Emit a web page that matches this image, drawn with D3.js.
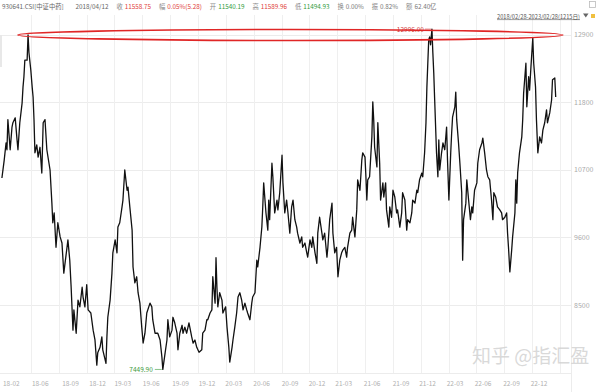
<!DOCTYPE html>
<html>
<head>
<meta charset="utf-8">
<script src="https://cdn.jsdelivr.net/npm/d3@7"></script>
<style>
  body { margin: 0; background: #fff; }
  svg { display: block; font-family: "Noto Sans CJK SC", "Noto Sans", sans-serif; }
</style>
</head>
<body>
<div id="chart"></div>
<script>
// ---------------------------------------------------------
// DATA  (trading-day index, close)
// ---------------------------------------------------------
const series = [
  [2,10570],[7,10860],[11,11140],[13,11030],[15,11520],[20,11030],[24,11400],[26,11470],[31,11550],[35,11190],
  [37,11030],[41,11470],[46,11790],[48,12050],[50,12220],[52,12490],[57,12490],[59,12900],[61,12610],[65,12330],
  [68,12050],[70,11890],[72,11520],[74,10980],[78,11110],[81,10910],[85,11070],[89,10650],[92,11470],[96,11520],
  [100,11030],[107,10700],[111,10160],[113,9840],[116,10000],[120,9440],[124,9840],[129,9610],[133,9510],[137,9020],
  [144,9440],[146,9560],[150,9230],[153,8790],[157,8090],[159,8420],[164,8040],[168,8580],[172,8470],[177,8790],
  [179,8630],[183,8470],[187,8830],[190,8420],[196,8370],[201,8090],[205,7930],[209,7520],[211,7720],[216,7810],
  [220,7980],[222,7770],[229,7550],[231,7980],[233,8300],[238,8580],[242,9020],[244,9350],[249,9560],[253,9350],
  [255,9770],[259,9840],[264,10100],[266,10210],[270,10700],[275,10370],[277,10420],[281,10100],[286,9720],[288,9120],
  [292,8860],[296,8960],[299,8700],[303,8530],[307,8140],[310,7880],[314,8040],[318,8370],[325,8530],[329,8470],
  [331,8260],[336,8040],[342,8040],[347,7930],[351,7650],[353,7450],[358,7720],[362,7930],[364,8260],[368,7980],
  [373,8090],[375,8300],[379,8210],[384,8040],[386,7770],[390,8040],[395,8170],[397,8040],[401,8140],[405,8040],
  [410,8210],[416,7980],[419,7880],[423,7930],[427,7810],[432,7730],[438,7770],[440,8040],[445,8090],[449,8260],
  [451,8260],[456,8370],[460,8420],[462,8960],[467,8530],[469,9270],[471,8790],[473,8470],[477,8700],[482,8580],
  [484,8370],[490,8470],[493,8140],[497,7810],[499,7570],[504,7810],[506,7930],[510,8140],[514,8370],[517,8630],
  [521,8700],[525,8580],[528,8420],[532,8530],[536,8420],[538,8370],[543,8260],[547,8530],[549,8630],[554,8700],
  [558,9230],[560,9120],[565,9440],[569,9770],[571,10100],[573,10490],[578,10000],[582,9720],[584,10210],[586,9890],
  [591,10810],[593,10590],[597,10000],[602,10210],[604,10050],[608,10330],[613,10940],[615,10490],[619,10000],[623,10210],
  [626,10000],[630,9670],[634,10100],[637,10210],[641,9890],[645,9770],[647,9670],[652,9510],[656,9610],[658,9440],
  [663,9510],[667,9350],[669,9280],[674,9560],[678,9440],[680,9610],[685,9350],[689,9180],[691,9670],[695,9930],
  [700,9670],[702,9560],[706,9670],[711,9280],[713,9440],[717,9890],[722,10160],[724,9670],[728,9350],[732,9440],
  [735,8960],[739,9230],[743,9350],[746,9400],[750,9440],[754,9280],[756,9440],[761,9670],[765,9720],[767,9930],
  [772,9610],[776,10050],[778,10540],[783,10370],[787,10860],[789,10980],[794,10910],[796,10590],[798,10210],[800,10540],
  [804,10590],[809,11240],[811,11810],[813,11520],[815,11070],[820,10750],[822,11470],[826,10810],[828,10210],[833,10490],
  [835,10260],[839,10490],[841,10050],[846,9770],[848,10100],[852,9930],[855,10370],[859,10260],[863,10000],[865,10050],
  [870,9770],[874,10000],[876,10330],[881,10210],[885,9720],[887,9890],[892,9840],[896,10000],[898,10210],[903,10160],
  [907,10370],[909,10330],[913,10540],[918,10650],[920,10590],[924,10980],[927,11470],[929,12050],[931,12440],[933,12820],
  [935,12870],[937,12740],[940,12996],[942,12610],[944,12280],[946,11840],[950,10980],[953,10590],[955,11190],[957,10700],
  [961,10980],[964,11140],[968,11030],[972,11400],[974,10860],[977,10210],[981,10980],[983,11300],[985,11560],[990,11730],
  [992,11970],[994,11520],[998,11140],[1001,10810],[1005,10330],[1007,9230],[1009,9890],[1014,10160],[1016,10540],[1020,10210],
  [1024,9890],[1027,10100],[1029,10000],[1033,10370],[1038,10490],[1040,10810],[1044,11030],[1049,11140],[1051,11220],[1055,10980],
  [1059,10700],[1062,10590],[1066,10540],[1070,10210],[1073,9890],[1075,10330],[1079,10260],[1083,10100],[1088,10050],[1092,10000],
  [1094,9890],[1099,9930],[1103,10000],[1105,9670],[1107,9440],[1110,9040],[1114,9400],[1116,9610],[1121,10000],[1123,10540],
  [1125,10160],[1127,10650],[1131,10980],[1136,11240],[1138,11520],[1140,11950],[1145,12440],[1147,11730],[1151,12220],[1153,12000],
  [1156,12380],[1160,12850],[1162,12440],[1166,12050],[1168,11520],[1171,10980],[1175,11240],[1179,11140],[1182,11350],[1186,11470],
  [1190,11680],[1192,11470],[1197,11630],[1201,11840],[1203,12170],[1208,12200],[1210,11890]
];

const totalDays = 1215;
const yTicks = [8500, 9600, 10700, 11800, 12900];
const monthLabels = ["18-02","18-06","18-09","18-12","19-03","19-06","19-09","19-12","20-03","20-06",
                     "20-09","20-12","21-03","21-06","21-09","21-12","22-03","22-06","22-09","22-12"];
const monthDays = [0,63,129,188,243,305,369,427,485,546,608,667,725,787,850,908,968,1029,1091,1151];

const highMark = { day: 940, value: 12996.00 };
const lowMark  = { day: 353, value: 7449.90 };

const quoteTitle = "930641.CSI[中证中药]";
const quoteDate  = "2018/04/12";
const quoteKeys   = ["收", "幅", "开", "高", "低", "换", "振", "额"];
const quoteValues = ["11558.75", "0.05%(5.28)", "11540.19", "11589.96", "11494.93", "0.00%", "0.82%", "62.40亿"];
const quoteColors = ["#e0403a", "#e0403a", "#2f9a3a", "#e0403a", "#2f9a3a", "#777", "#777", "#777"];
const rangeText = "2018/02/28-2023/02/28(1215日)";

// ---------------------------------------------------------
// SETUP
// ---------------------------------------------------------
const width = 600, height = 392;
const plotTop = 20, plotBottom = 373, plotRight = 571;

const svg = d3.select("#chart").append("svg")
    .attr("width", width)
    .attr("height", height);

const x = d3.scaleLinear().domain([0, totalDays]).range([1, 558]);
const y = d3.scaleLinear().domain([7392, 13144]).range([plotBottom, plotTop]);

// grid
const gGrid = svg.append("g");
gGrid.selectAll("line.h")
  .data(yTicks)
  .enter().append("line")
    .attr("x1", 0).attr("x2", plotRight)
    .attr("y1", d => Math.round(y(d)) + 0.5)
    .attr("y2", d => Math.round(y(d)) + 0.5)
    .attr("stroke", "#ececec");

gGrid.selectAll("line.v")
  .data(d3.range(1, 21))
  .enter().append("line")
    .attr("x1", i => Math.round(3 + i * 27.85) + 0.5)
    .attr("x2", i => Math.round(3 + i * 27.85) + 0.5)
    .attr("y1", plotTop - 5).attr("y2", plotBottom)
    .attr("stroke", "#efefef");

gGrid.append("line")
    .attr("x1", plotRight + 0.5).attr("x2", plotRight + 0.5)
    .attr("y1", plotTop - 5).attr("y2", height)
    .attr("stroke", "#ececec");
gGrid.append("line")
    .attr("x1", 0).attr("x2", plotRight)
    .attr("y1", plotBottom + 0.5).attr("y2", plotBottom + 0.5)
    .attr("stroke", "#ececec");
gGrid.append("rect")
    .attr("x", 0).attr("y", 35).attr("width", 2).attr("height", 32)
    .attr("fill", "#e8e8e8");

// right axis labels
svg.append("g").selectAll("text")
  .data(yTicks)
  .enter().append("text")
    .attr("x", plotRight + 3)
    .attr("y", d => y(d) + 2.5)
    .attr("font-size", 7)
    .attr("fill", "#aaa")
    .text(d => d);

// bottom month labels
svg.append("g").selectAll("text")
  .data(monthLabels)
  .enter().append("text")
    .attr("x", (d, i) => x(monthDays[i]) + 2)
    .attr("y", 386)
    .attr("font-size", 6.5)
    .attr("fill", "#b0b0b0")
    .text(d => d);

// watermark
svg.append("text")
    .attr("x", 472).attr("y", 363)
    .attr("font-size", 19)
    .attr("fill", "#d2d2d2")
    .attr("fill-opacity", 0.85)
    .text("知乎 @指汇盈");

// price line
const line = d3.line()
    .x(d => x(d[0]))
    .y(d => y(d[1]));

svg.append("path")
    .datum(series)
    .attr("d", line)
    .attr("fill", "none")
    .attr("stroke", "#111")
    .attr("stroke-width", 1.3)
    .attr("stroke-linejoin", "round");

// high / low marks
const hx = x(highMark.day), hy = y(highMark.value);
svg.append("line")
    .attr("x1", hx - 7).attr("x2", hx - 1)
    .attr("y1", hy).attr("y2", hy)
    .attr("stroke", "#d04040").attr("stroke-width", 0.6);
svg.append("text")
    .attr("x", hx - 8).attr("y", hy + 2.5)
    .attr("text-anchor", "end")
    .attr("font-size", 6.5)
    .attr("fill", "#d04040")
    .text(highMark.value.toFixed(2));

const lx = x(lowMark.day), ly = y(lowMark.value);
svg.append("line")
    .attr("x1", lx - 8).attr("x2", lx - 1)
    .attr("y1", ly).attr("y2", ly)
    .attr("stroke", "#3a9a3a").attr("stroke-width", 0.6);
svg.append("text")
    .attr("x", lx - 10).attr("y", ly + 2.5)
    .attr("text-anchor", "end")
    .attr("font-size", 6.5)
    .attr("fill", "#3a9a3a")
    .text(lowMark.value.toFixed(2));

// red hand-drawn ellipse
svg.append("ellipse")
    .attr("cx", 290.5).attr("cy", 35)
    .attr("rx", 272.5).attr("ry", 5.5)
    .attr("fill", "none")
    .attr("stroke", "#e02626")
    .attr("stroke-width", 1.6);

// header, laid out left to right
const header = svg.append("g").attr("font-size", 6.3);
let cursor = 2;
function put(txt, color, gapAfter) {
  const t = header.append("text").attr("x", cursor).attr("y", 9).attr("fill", color).text(txt);
  cursor += t.node().getComputedTextLength() + gapAfter;
}
put(quoteTitle, "#666", 12);
put(quoteDate, "#666", 8);
quoteKeys.forEach((k, i) => {
  put(k, "#888", 2);
  put(quoteValues[i], quoteColors[i], 8);
});

svg.append("text")
    .attr("x", 497).attr("y", 18.5)
    .attr("font-size", 5.6)
    .attr("fill", "#555")
    .attr("text-decoration", "underline")
    .attr("textLength", 83)
    .attr("lengthAdjust", "spacingAndGlyphs")
    .text(rangeText);
svg.append("path")
    .attr("d", "M583,13.5L588.5,13.5L585.75,17.5Z")
    .attr("fill", "#666");
svg.append("rect")
    .attr("x", 591).attr("y", 14).attr("width", 4).attr("height", 4)
    .attr("fill", "#f0c040");
svg.append("rect")
    .attr("x", 589.5).attr("y", 1.5).attr("width", 6).attr("height", 6)
    .attr("fill", "none").attr("stroke", "#bbb").attr("stroke-width", 0.8);
</script>
</body>
</html>
